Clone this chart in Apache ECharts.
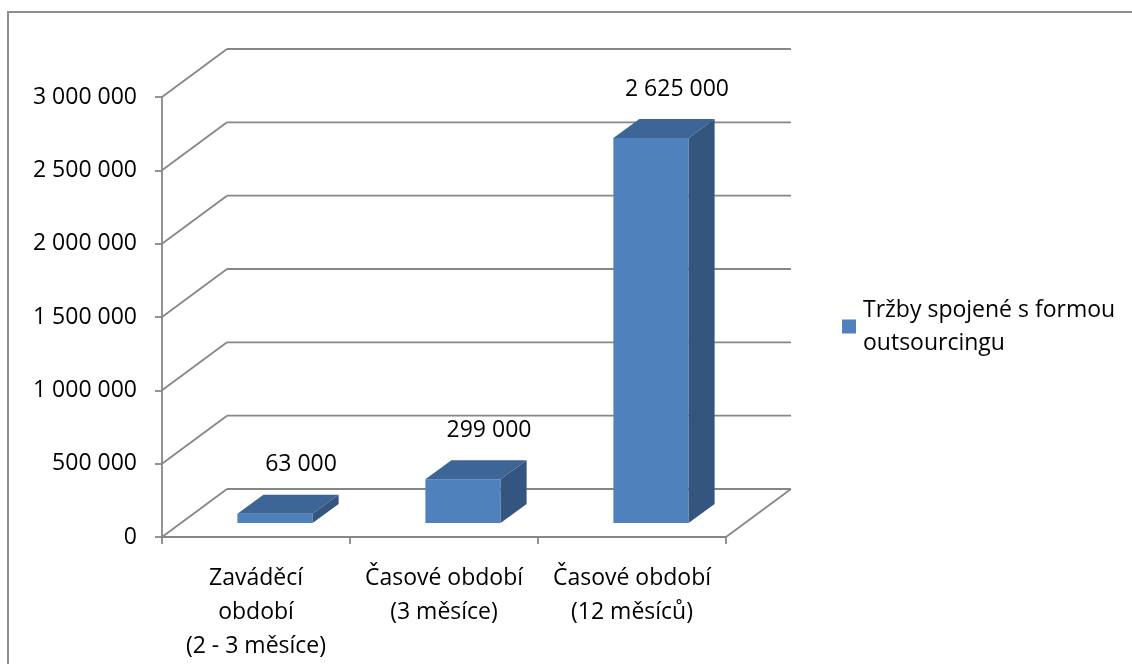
<!DOCTYPE html>
<html>
<head>
<meta charset="utf-8">
<script src="https://cdn.jsdelivr.net/npm/echarts@6/dist/echarts.min.js"></script>
<style>
  html, body { margin: 0; padding: 0; background: #ffffff; }
  #chart { width: 1132px; height: 664px; }
</style>
</head>
<body>
<div id="chart"></div>
<script>
// Categories (time periods) and sales values
const categories = ['Zaváděcí\nobdobí\n(2 - 3 měsíce)', 'Časové období\n(3 měsíce)', 'Časové období\n(12 měsíců)'];
const sales = [63000, 299000, 2625000];
const seriesName = 'Tržby spojené s formou outsourcingu';
const yTicks = [0, 500000, 1000000, 1500000, 2000000, 2500000, 3000000];

// Pseudo-3D geometry
const WALL_DX = 65, WALL_DY = -48;   // depth of the floor / back wall
const BAR_DX = 19, BAR_DY = -14;     // bar plane offset from the front plane
const BOX_DX = 26, BOX_DY = -19;     // depth of each bar box
const FONT = '"Open Sans", "Liberation Sans", sans-serif';
const FONT_SIZE = 23;
const GRID_COLOR = '#878787';
const GRID_WIDTH = 1.8;

const fmt = n => String(n).replace(/\B(?=(\d{3})+(?!\d))/g, ' ');

const chart = echarts.init(document.getElementById('chart'), null, { renderer: 'canvas' });

const option = {
  backgroundColor: '#ffffff',
  animation: false,
  graphic: [{
    type: 'rect',
    z: -10,
    shape: { x: 8, y: 12, width: 1200, height: 700 },
    style: { fill: 'none', stroke: '#8d8d8d', lineWidth: 2 }
  }],
  grid: { left: 162, top: 97, width: 564, height: 440, containLabel: false },
  legend: {
    data: [seriesName],
    left: 842,
    top: 277,
    padding: 0,
    itemWidth: 14,
    itemHeight: 14,
    icon: 'rect',
    formatter: () => 'Tržby spojené s formou\noutsourcingu',
    textStyle: { fontFamily: FONT, fontSize: FONT_SIZE, color: '#000', lineHeight: 33, padding: [33, 0, 0, 2] }
  },
  xAxis: {
    type: 'category',
    data: categories,
    axisLine: { show: true, lineStyle: { color: GRID_COLOR, width: GRID_WIDTH } },
    axisTick: { show: true, length: 7, alignWithLabel: false, lineStyle: { color: GRID_COLOR, width: GRID_WIDTH } },
    axisLabel: { fontFamily: FONT, fontSize: FONT_SIZE, color: '#000', lineHeight: 34, margin: 24, interval: 0 },
    splitLine: { show: false }
  },
  yAxis: {
    type: 'value',
    min: 0,
    max: 3000000,
    interval: 500000,
    axisLine: { show: true, lineStyle: { color: GRID_COLOR, width: GRID_WIDTH } },
    axisTick: { show: true, length: 7, lineStyle: { color: GRID_COLOR, width: GRID_WIDTH } },
    axisLabel: { fontFamily: FONT, fontSize: FONT_SIZE, color: '#000', margin: 25, formatter: v => fmt(v) },
    splitLine: { show: false }
  },
  series: [
    {
      // side wall and back wall gridlines, one set per tick value
      type: 'custom',
      name: 'walls',
      silent: true,
      clip: false,
      z: 1,
      data: yTicks.map(v => [0, v]),
      encode: { x: 0, y: 1 },
      renderItem: (params, api) => {
        const cs = params.coordSys;
        const v = api.value(1);
        const y = api.coord([0, v])[1];
        const x0 = cs.x, x1 = cs.x + cs.width;
        const ls = { stroke: GRID_COLOR, lineWidth: GRID_WIDTH, fill: null };
        const children = [
          { type: 'line', shape: { x1: x0, y1: y, x2: x0 + WALL_DX, y2: y + WALL_DY }, style: ls },
          { type: 'line', shape: { x1: x0 + WALL_DX, y1: y + WALL_DY, x2: x1 + WALL_DX, y2: y + WALL_DY }, style: ls }
        ];
        if (v === 0) {
          children.push({ type: 'line', shape: { x1: x1, y1: y, x2: x1 + WALL_DX, y2: y + WALL_DY }, style: ls });
        }
        return { type: 'group', children };
      }
    },
    {
      type: 'custom',
      name: seriesName,
      clip: false,
      z: 5,
      itemStyle: { color: '#4F81BD' },
      data: sales.map((v, i) => [i, v]),
      encode: { x: 0, y: 1 },
      renderItem: (params, api) => {
        const i = api.value(0);
        const v = api.value(1);
        const base = api.coord([i, 0]);
        const top = api.coord([i, v]);
        const w = api.size([1, 0])[0] * 0.4;
        const cx = base[0] + BAR_DX;
        const yb = base[1] + BAR_DY;
        const yt = top[1] + BAR_DY;
        const xl = cx - w / 2, xr = cx + w / 2;
        return {
          type: 'group',
          children: [
            { type: 'rect', shape: { x: xl, y: yt, width: w, height: yb - yt }, style: { fill: '#4F81BD' } },
            { type: 'polygon', shape: { points: [[xl, yt], [xl + BOX_DX, yt + BOX_DY], [xr + BOX_DX, yt + BOX_DY], [xr, yt]] }, style: { fill: '#3D6596' } },
            { type: 'polygon', shape: { points: [[xr, yt], [xr + BOX_DX, yt + BOX_DY], [xr + BOX_DX, yb + BOX_DY], [xr, yb]] }, style: { fill: '#34557F' } },
            {
              type: 'text',
              style: {
                x: cx + BOX_DX, y: yt + BOX_DY - 30,
                text: fmt(v),
                fill: '#000', font: FONT_SIZE + 'px ' + FONT,
                align: 'center', verticalAlign: 'middle'
              }
            }
          ]
        };
      }
    }
  ]
};

chart.setOption(option);
</script>
</body>
</html>
